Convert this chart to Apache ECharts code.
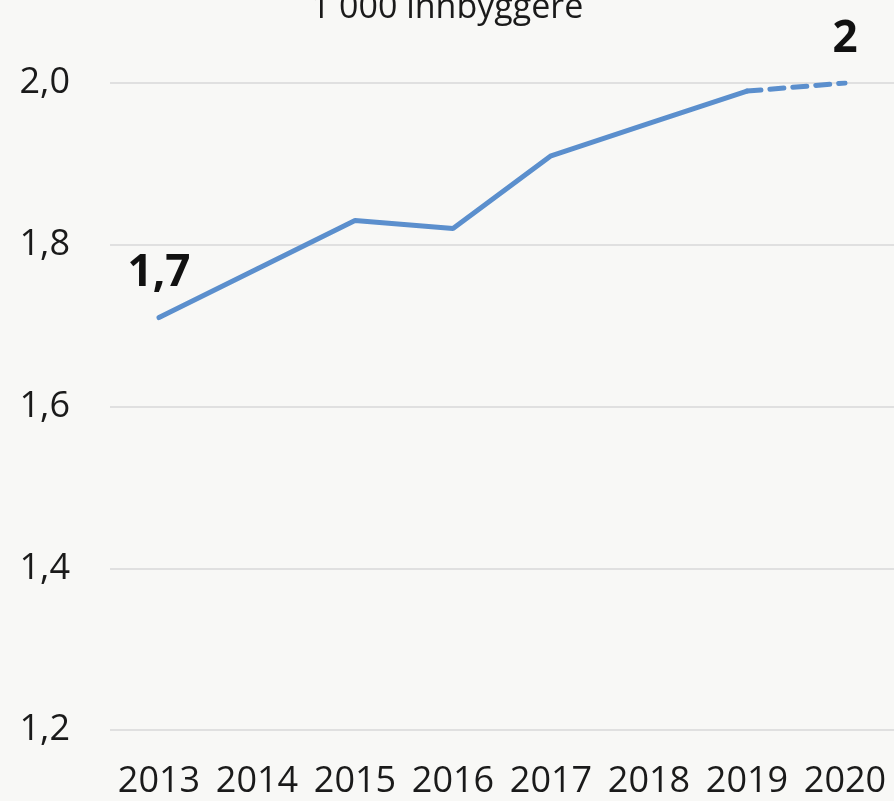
<!DOCTYPE html>
<html>
<head>
<meta charset="utf-8">
<script src="https://cdn.jsdelivr.net/npm/echarts@6/dist/echarts.min.js"></script>
<style>
  html, body { margin: 0; padding: 0; background: #f8f8f6; }
  #chart { width: 894px; height: 801px; }
</style>
</head>
<body>
<div id="chart"></div>
<script>
const years = ['2013', '2014', '2015', '2016', '2017', '2018', '2019', '2020'];
const values = [1.71, 1.77, 1.83, 1.82, 1.91, 1.95, 1.99, 2.0];
const yTicks = { min: 1.2, max: 2.0, interval: 0.2 };
const titleText = '1 000 innbyggere';

// end labels: "1,7" and "2"
const fmtShort = v => String(Number(v.toFixed(1))).replace('.', ',');
const fmtAxis = v => v.toFixed(1).replace('.', ',');
const lineColor = '#5b8fcd';
const lastSolid = values.length - 2;

const solidData = values.map((v, i) => {
  if (i > lastSolid) return '-';
  if (i === 0) return { value: v, label: { show: true } };
  return v;
});
const dashedData = values.map((v, i) => {
  if (i < lastSolid) return '-';
  if (i === values.length - 1) return { value: v, label: { show: true } };
  return v;
});

const labelStyle = {
  show: false,
  position: 'top',
  distance: 22,
  fontFamily: 'Open Sans',
  fontWeight: 'bold',
  fontSize: 44,
  color: '#111',
  formatter: p => fmtShort(p.value)
};

const chart = echarts.init(document.getElementById('chart'));
chart.setOption({
  backgroundColor: '#f8f8f6',
  animation: false,
  textStyle: { fontFamily: 'Open Sans' },
  graphic: [{
    type: 'text',
    left: 'center',
    top: -9,
    style: { text: titleText, fontFamily: 'Open Sans', fontSize: 34, fill: '#1a1a1a' }
  }],
  grid: { left: 110, right: -3, top: 83, bottom: 71 },
  xAxis: {
    type: 'category',
    data: years,
    axisLine: { show: false },
    axisTick: { show: false },
    axisLabel: { fontSize: 36, color: '#1a1a1a', margin: 34, interval: 0, hideOverlap: false }
  },
  yAxis: {
    type: 'value',
    min: yTicks.min,
    max: yTicks.max,
    interval: yTicks.interval,
    axisLine: { show: false },
    axisTick: { show: false },
    splitLine: { lineStyle: { color: '#d9d9d9', width: 1.5 } },
    axisLabel: { fontSize: 36, color: '#1a1a1a', margin: 40, formatter: fmtAxis }
  },
  series: [
    {
      type: 'line',
      data: solidData,
      symbol: 'circle',
      symbolSize: 0,
      showSymbol: true,
      lineStyle: { color: lineColor, width: 5, cap: 'round' },
      itemStyle: { color: lineColor },
      label: labelStyle
    },
    {
      type: 'line',
      data: dashedData,
      symbol: 'circle',
      symbolSize: 0,
      showSymbol: true,
      lineStyle: { color: lineColor, width: 5, type: [14, 9], cap: 'round' },
      itemStyle: { color: lineColor },
      label: labelStyle
    }
  ]
});
</script>
</body>
</html>
